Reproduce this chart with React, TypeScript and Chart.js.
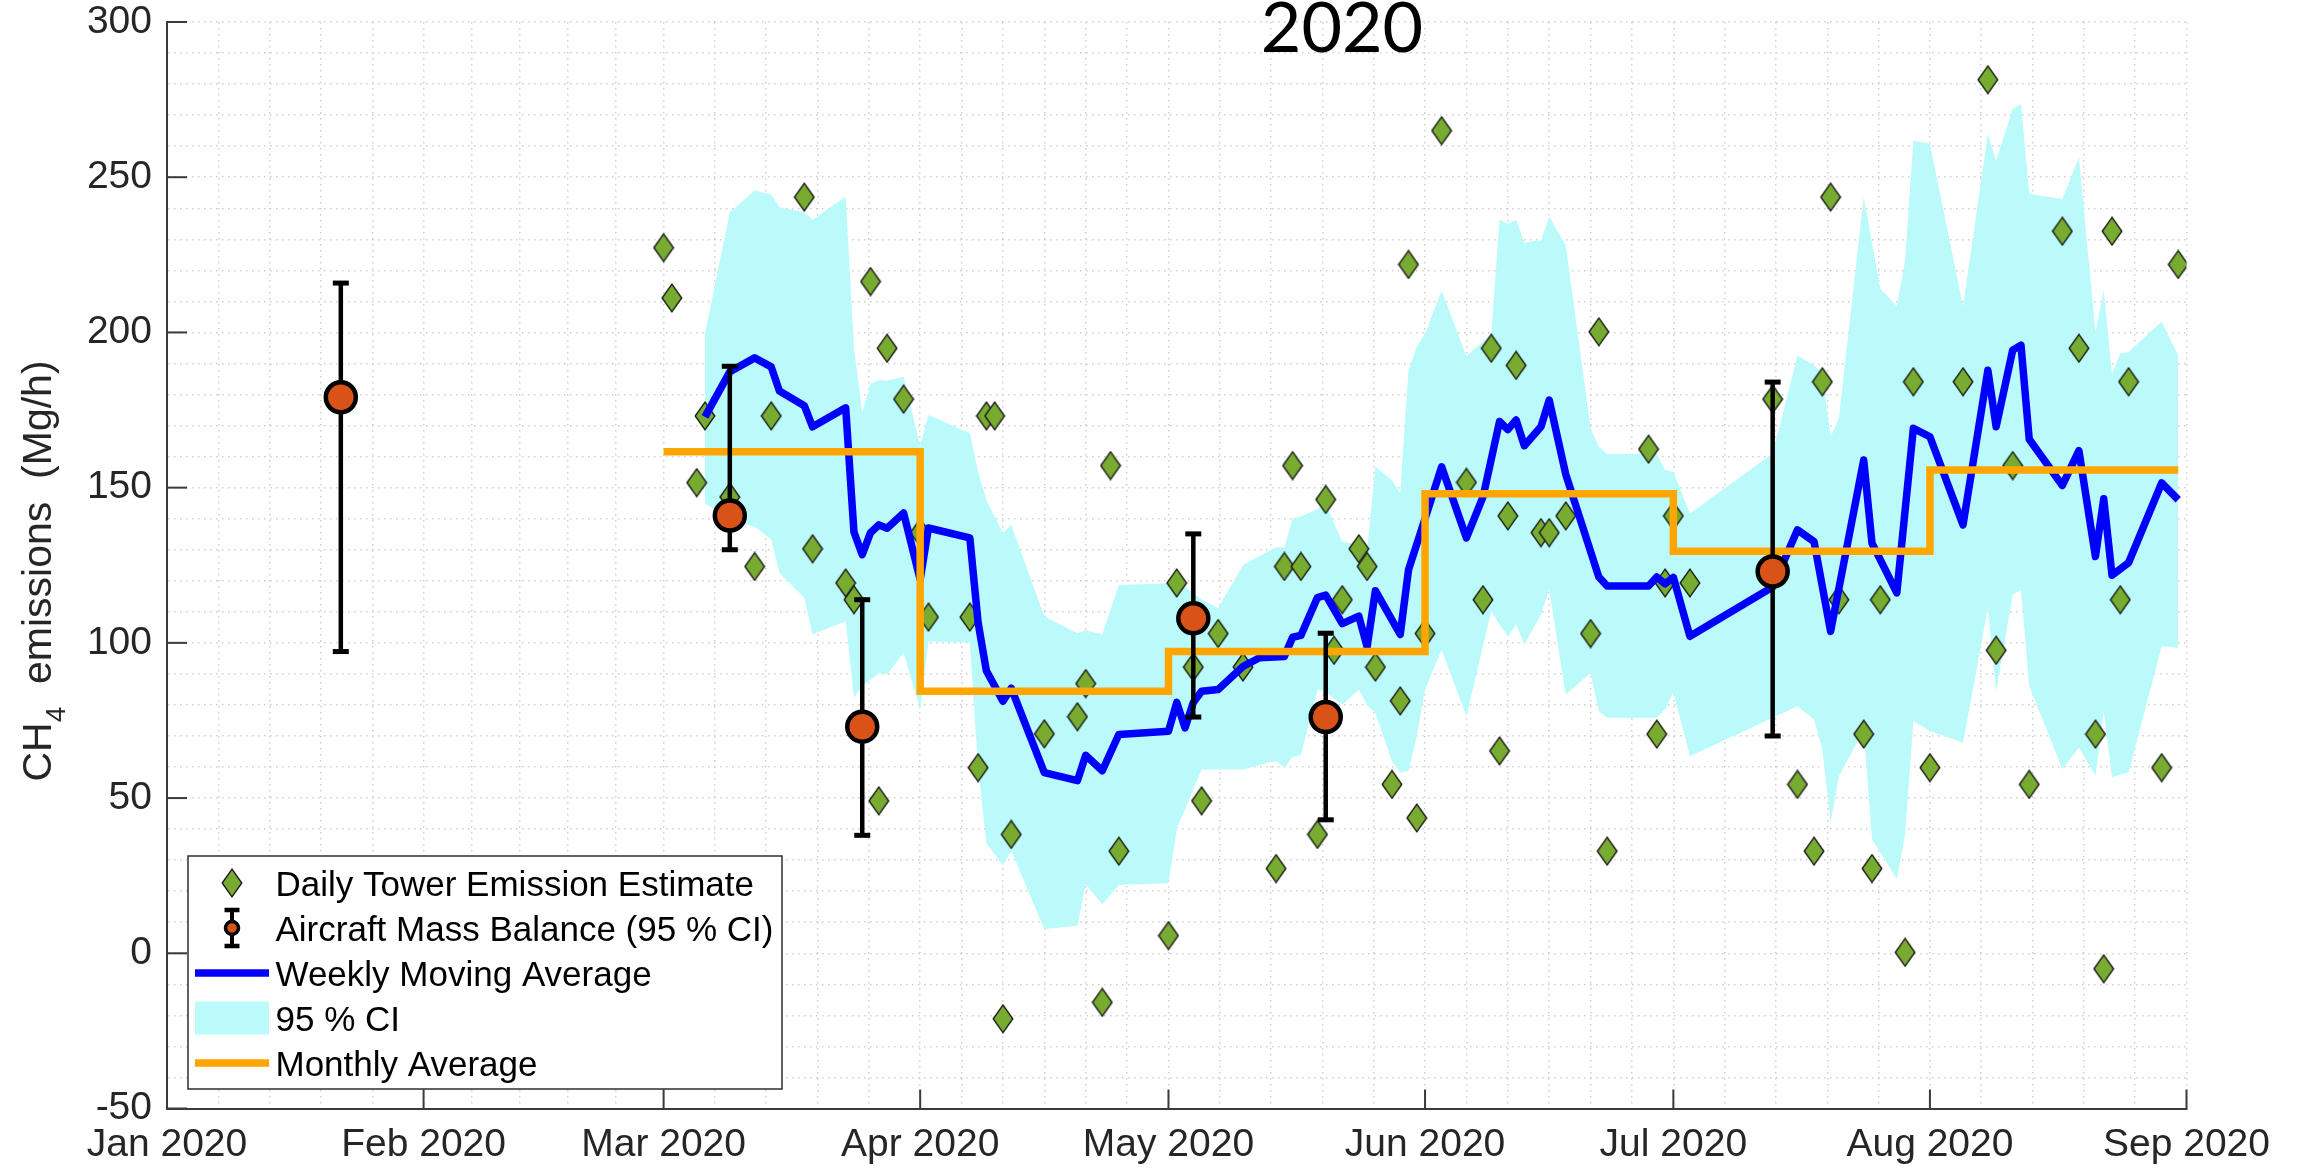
import React, { useEffect, useRef } from 'react';
import { Chart, registerables } from 'chart.js';

Chart.register(...registerables);

// ---------- axis / tick data ----------
const monthLabels = ['Jan 2020', 'Feb 2020', 'Mar 2020', 'Apr 2020', 'May 2020', 'Jun 2020', 'Jul 2020', 'Aug 2020', 'Sep 2020'];
const monthStartDays = [0, 31, 60, 91, 121, 152, 182, 213, 244];
const minorDivisions = [5, 5, 5, 6, 5, 6, 5, 5];
const yMajorTicks = [-50, 0, 50, 100, 150, 200, 250, 300];

// ---------- Daily tower emission estimates ----------
const towerDates = ['03-01', '03-02', '03-05', '03-06', '03-09', '03-12', '03-14', '03-18', '03-19', '03-23', '03-24', '03-26', '03-27', '03-28', '03-30', '04-01', '04-02', '04-07', '04-08', '04-09', '04-10', '04-11', '04-12', '04-16', '04-20', '04-21', '04-23', '04-24', '04-25', '05-01', '05-02', '05-04', '05-05', '05-07', '05-10', '05-14', '05-15', '05-16', '05-17', '05-19', '05-20', '05-21', '05-22', '05-24', '05-25', '05-26', '05-28', '05-29', '05-30', '05-31', '06-01', '06-03', '06-06', '06-08', '06-09', '06-10', '06-11', '06-12', '06-15', '06-16', '06-18', '06-21', '06-22', '06-23', '06-28', '06-29', '06-30', '07-01', '07-03', '07-13', '07-16', '07-18', '07-19', '07-20', '07-21', '07-24', '07-25', '07-26', '07-29', '07-30', '08-01', '08-05', '08-08', '08-09', '08-11', '08-13', '08-17', '08-19', '08-21', '08-22', '08-23', '08-24', '08-25', '08-29', '08-31'];
const towerValues = [227.3, 211.1, 151.6, 173.1, 147.0, 124.6, 173.1, 243.6, 130.3, 119.3, 113.9, 216.4, 49.1, 194.9, 178.5, 135.5, 108.3, 108.3, 59.8, 173.1, 173.1, -21.1, 38.3, 70.7, 76.2, 86.9, -15.8, 157.1, 32.9, 5.7, 119.3, 92.2, 49.1, 103.0, 92.2, 27.3, 124.6, 157.1, 124.6, 38.3, 146.2, 97.6, 113.9, 130.3, 124.6, 92.2, 54.4, 81.3, 221.9, 43.6, 103.0, 265.0, 151.7, 113.9, 194.9, 65.2, 140.9, 189.4, 135.5, 135.5, 140.9, 103.0, 200.2, 32.9, 162.4, 70.6, 119.3, 140.9, 119.3, 178.5, 54.4, 32.9, 184.1, 243.6, 113.9, 70.6, 27.3, 113.9, 0.3, 184.1, 59.8, 184.1, 281.4, 97.6, 157.1, 54.4, 232.6, 194.9, 70.6, -5.0, 232.6, 113.9, 184.1, 59.8, 221.9];

// ---------- Aircraft mass balance (95% CI) ----------
const aircraftDates = ['01-22', '03-09', '03-25', '05-04', '05-20', '07-13'];
const aircraftValues = [179.1, 141.0, 73.0, 107.9, 76.1, 123.0];
const aircraftLow = [97.2, 130.0, 38.0, 76.1, 43.0, 70.0];
const aircraftHigh = [215.9, 189.1, 113.9, 135.1, 103.1, 184.0];

// ---------- Weekly moving average ----------
const weeklyDates = ['03-06', '03-09', '03-12', '03-14', '03-15', '03-18', '03-19', '03-23', '03-24', '03-25', '03-26', '03-27', '03-28', '03-30', '04-01', '04-02', '04-07', '04-08', '04-09', '04-10', '04-11', '04-12', '04-16', '04-20', '04-21', '04-23', '04-25', '05-01', '05-02', '05-03', '05-04', '05-05', '05-07', '05-10', '05-12', '05-15', '05-16', '05-17', '05-19', '05-20', '05-22', '05-24', '05-25', '05-26', '05-29', '05-30', '06-01', '06-03', '06-06', '06-08', '06-10', '06-11', '06-12', '06-13', '06-15', '06-16', '06-18', '06-22', '06-23', '06-28', '06-29', '06-30', '07-01', '07-03', '07-13', '07-16', '07-18', '07-20', '07-24', '07-25', '07-26', '07-28', '07-30', '08-01', '08-05', '08-08', '08-09', '08-11', '08-12', '08-13', '08-17', '08-19', '08-21', '08-22', '08-23', '08-25', '08-29', '08-31'];
const weeklyValues = [172.8, 187.3, 191.8, 188.9, 181.1, 176.4, 169.6, 175.7, 135.7, 128.4, 135.5, 138.0, 136.9, 141.8, 120.4, 137.0, 133.8, 106.5, 91.0, 86.1, 81.2, 85.4, 58.2, 55.6, 63.8, 58.8, 70.5, 71.5, 80.8, 72.6, 80.8, 84.4, 85.0, 92.4, 95.2, 95.6, 101.8, 102.4, 114.6, 115.4, 106.2, 108.6, 98.7, 116.8, 102.7, 123.5, 140.0, 156.7, 133.8, 147.0, 171.3, 168.7, 171.8, 163.5, 169.6, 178.2, 154.3, 121.2, 118.3, 118.3, 121.2, 119.0, 121.1, 102.1, 118.0, 136.4, 132.6, 103.7, 158.9, 132.1, 126.8, 116.1, 169.1, 166.4, 138.0, 187.8, 169.6, 194.3, 195.9, 165.6, 150.7, 161.9, 127.8, 146.4, 121.8, 125.8, 151.5, 146.1];

// ---------- 95% CI band ----------
const ciDates = ['03-06', '03-09', '03-12', '03-14', '03-15', '03-18', '03-19', '03-23', '03-24', '03-25', '03-26', '03-27', '03-28', '03-30', '04-01', '04-02', '04-07', '04-08', '04-09', '04-11', '04-12', '04-16', '04-20', '04-21', '04-23', '04-25', '05-01', '05-02', '05-05', '05-07', '05-10', '05-14', '05-15', '05-16', '05-17', '05-19', '05-20', '05-21', '05-22', '05-23', '05-24', '05-25', '05-26', '05-28', '05-29', '05-30', '05-31', '06-01', '06-03', '06-06', '06-09', '06-10', '06-11', '06-12', '06-13', '06-15', '06-16', '06-18', '06-21', '06-22', '06-23', '06-29', '06-30', '07-01', '07-03', '07-13', '07-16', '07-18', '07-19', '07-20', '07-21', '07-24', '07-25', '07-26', '07-28', '07-29', '07-30', '08-01', '08-05', '08-08', '08-09', '08-11', '08-12', '08-13', '08-17', '08-19', '08-21', '08-22', '08-23', '08-24', '08-25', '08-29', '08-31'];
const ciUpper = [199.6, 238.7, 245.7, 244.4, 240.3, 238.7, 236.3, 243.8, 195.0, 174.2, 183.5, 184.6, 184.4, 185.7, 163.5, 173.4, 167.5, 155.0, 146.0, 135.4, 138.0, 108.5, 103.1, 104.1, 102.7, 118.6, 119.2, 120.0, 114.0, 111.2, 125.1, 130.8, 130.8, 140.1, 140.7, 143.0, 145.0, 138.5, 132.6, 132.1, 131.5, 130.0, 156.7, 152.5, 148.2, 187.8, 195.3, 199.6, 213.5, 192.3, 199.6, 236.3, 235.0, 236.3, 229.0, 229.6, 237.3, 228.0, 169.1, 163.2, 160.8, 160.8, 155.7, 155.1, 141.7, 161.0, 192.6, 189.4, 186.8, 166.4, 172.3, 243.6, 229.0, 214.1, 208.4, 223.2, 261.8, 260.7, 208.4, 263.9, 255.3, 272.0, 273.6, 244.6, 243.0, 256.4, 200.2, 213.5, 186.8, 193.2, 193.7, 203.4, 192.6];
const ciLower = [145.0, 140.0, 137.4, 133.3, 122.5, 114.5, 102.7, 107.0, 82.3, 86.0, 88.0, 90.3, 89.8, 96.8, 78.5, 100.5, 100.0, 60.0, 35.5, 28.3, 33.0, 7.8, 8.9, 22.3, 15.8, 22.0, 22.6, 40.0, 59.2, 59.2, 59.2, 62.0, 59.8, 63.2, 63.8, 85.0, 84.4, 82.0, 80.2, 82.5, 85.0, 80.0, 77.5, 61.9, 58.2, 58.7, 70.0, 85.0, 97.8, 76.4, 110.2, 106.0, 102.1, 105.9, 99.5, 109.1, 117.1, 83.4, 90.3, 78.0, 75.9, 75.9, 78.6, 84.0, 63.5, 75.9, 79.6, 75.3, 65.7, 42.1, 57.0, 72.0, 36.8, 32.5, 23.9, 38.3, 74.8, 71.6, 67.8, 111.2, 84.4, 115.5, 117.1, 86.1, 59.3, 66.3, 57.1, 78.0, 56.6, 57.5, 58.2, 98.9, 98.4];

// ---------- Monthly average ----------
const monthlyDates = ['03-01', '04-01', '05-01', '06-01', '07-01', '08-01', '08-31'];
const monthlyValues = [161.6, 84.4, 97.2, 148.0, 129.5, 155.7, 155.7];

// ---------- helpers ----------
const FONT = "'Liberation Sans', Arial, Helvetica, sans-serif";
const AXIS_COLOR = '#3a3a3a';
const TEXT_COLOR = '#262626';
const GRID_COLOR = '#cfcfcf';
const CI_COLOR = '#BBFAFA';
const GREEN = '#77AC30';
const RED = '#D95319';
const BLUE = '#0000FF';
const ORANGE = '#FFA500';

const dayOf = (md: string): number => {
  const [m, d] = md.split('-').map(Number);
  return (Date.UTC(2020, m - 1, d) - Date.UTC(2020, 0, 1)) / 86400000;
};
const pts = (dates: string[], vals: number[]) => dates.map((d, i) => ({ x: dayOf(d), y: vals[i] }));

const xGridDays: number[] = [];
monthStartDays.slice(0, -1).forEach((start, i) => {
  const len = monthStartDays[i + 1] - start;
  for (let k = 0; k < minorDivisions[i]; k++) xGridDays.push(start + (len * k) / minorDivisions[i]);
});
xGridDays.push(244);
const yGridValues: number[] = [];
for (let v = -50; v <= 300; v += 10) yGridValues.push(v);

function makeDiamond(): HTMLCanvasElement {
  const c = document.createElement('canvas');
  c.width = 22;
  c.height = 30;
  const g = c.getContext('2d')!;
  g.beginPath();
  g.moveTo(11, 1.2);
  g.lineTo(20.8, 15);
  g.lineTo(11, 28.8);
  g.lineTo(1.2, 15);
  g.closePath();
  g.fillStyle = GREEN;
  g.fill();
  g.lineWidth = 1.4;
  g.strokeStyle = '#1a1a1a';
  g.stroke();
  return c;
}

function seg(ctx: CanvasRenderingContext2D, x1: number, y1: number, x2: number, y2: number) {
  ctx.beginPath();
  ctx.moveTo(x1, y1);
  ctx.lineTo(x2, y2);
  ctx.stroke();
}

export default function App() {
  const ref = useRef<HTMLCanvasElement | null>(null);

  useEffect(() => {
    if (!ref.current) return;
    const diamond = makeDiamond();

    const tickMarks = {
      id: 'tickMarks',
      beforeDatasetsDraw(chart: any) {
        const { ctx, chartArea: a, scales } = chart;
        ctx.save();
        ctx.strokeStyle = AXIS_COLOR;
        ctx.lineWidth = 2;
        monthStartDays.forEach((d) => {
          const px = scales.x.getPixelForValue(d);
          seg(ctx, px, a.bottom, px, a.bottom - 19);
        });
        yMajorTicks.forEach((v) => {
          const py = scales.y.getPixelForValue(v);
          seg(ctx, a.left, py, a.left + 20, py);
        });
        ctx.restore();
      },
    };

    const errorBars = {
      id: 'errorBars',
      beforeDatasetDraw(chart: any, args: any) {
        if (args.index !== 0) return;
        const { ctx, scales } = chart;
        ctx.save();
        ctx.strokeStyle = '#000';
        ctx.lineCap = 'butt';
        aircraftDates.forEach((d, i) => {
          const px = scales.x.getPixelForValue(dayOf(d));
          const yl = scales.y.getPixelForValue(aircraftLow[i]);
          const yh = scales.y.getPixelForValue(aircraftHigh[i]);
          ctx.lineWidth = 4.5;
          seg(ctx, px, yl, px, yh);
          ctx.lineWidth = 5;
          seg(ctx, px - 8, yl, px + 8, yl);
          seg(ctx, px - 8, yh, px + 8, yh);
        });
        ctx.restore();
      },
    };

    const overlay = {
      id: 'overlay',
      afterDraw(chart: any) {
        const ctx: CanvasRenderingContext2D = chart.ctx;
        ctx.save();
        // ---- legend ----
        const L = { x: 188, y: 856, w: 594, h: 233 };
        ctx.fillStyle = '#ffffff';
        ctx.fillRect(L.x, L.y, L.w, L.h);
        ctx.strokeStyle = '#2e2e2e';
        ctx.lineWidth = 1.5;
        ctx.strokeRect(L.x, L.y, L.w, L.h);
        const rows = [883, 928, 973, 1018, 1063];
        const cx = 232;
        const sx0 = 195;
        const sx1 = 269;
        // diamond
        ctx.drawImage(diamond, cx - diamond.width / 2, rows[0] - diamond.height / 2);
        // error bar icon
        ctx.strokeStyle = '#000';
        ctx.lineWidth = 4;
        seg(ctx, cx, rows[1] - 18, cx, rows[1] + 18);
        ctx.lineWidth = 4.5;
        seg(ctx, cx - 7.5, rows[1] - 18, cx + 7.5, rows[1] - 18);
        seg(ctx, cx - 7.5, rows[1] + 18, cx + 7.5, rows[1] + 18);
        ctx.beginPath();
        ctx.arc(cx, rows[1], 6.5, 0, Math.PI * 2);
        ctx.fillStyle = RED;
        ctx.fill();
        ctx.lineWidth = 3.5;
        ctx.stroke();
        // weekly line
        ctx.strokeStyle = BLUE;
        ctx.lineWidth = 7.5;
        seg(ctx, sx0, rows[2], sx1, rows[2]);
        // CI patch
        ctx.fillStyle = CI_COLOR;
        ctx.fillRect(sx0, rows[3] - 16.5, sx1 - sx0, 33);
        // monthly line
        ctx.strokeStyle = ORANGE;
        ctx.lineWidth = 7.5;
        seg(ctx, sx0, rows[4], sx1, rows[4]);
        // texts
        const labels = ['Daily Tower Emission Estimate', 'Aircraft Mass Balance (95 % CI)', 'Weekly Moving Average', '95 % CI', 'Monthly Average'];
        ctx.fillStyle = '#000';
        ctx.font = `35px ${FONT}`;
        ctx.textAlign = 'left';
        ctx.textBaseline = 'alphabetic';
        labels.forEach((t, i) => ctx.fillText(t, 275.5, rows[i] + 12.5));

        // ---- y axis title with subscript ----
        ctx.fillStyle = TEXT_COLOR;
        const mainFont = `41px ${FONT}`;
        const subFont = `28px ${FONT}`;
        ctx.font = mainFont;
        const wCH = ctx.measureText('CH').width;
        const wRest = ctx.measureText('  emissions  (Mg/h)').width;
        ctx.font = subFont;
        const wSub = ctx.measureText('4').width;
        const total = wCH + wSub + wRest;
        ctx.translate(51, 571);
        ctx.rotate(-Math.PI / 2);
        let tx = -total / 2;
        ctx.font = mainFont;
        ctx.fillText('CH', tx, 0);
        tx += wCH;
        ctx.font = subFont;
        ctx.fillText('4', tx, 14);
        tx += wSub;
        ctx.font = mainFont;
        ctx.fillText('  emissions  (Mg/h)', tx, 0);
        ctx.setTransform(1, 0, 0, 1, 0, 0);

        // ---- title ----
        ctx.fillStyle = '#000';
        ctx.font = `70px Lato, 'Open Sans', sans-serif`;
        ctx.textAlign = 'center';
        ctx.fillText('2020', 1342, 52);
        ctx.restore();
      },
    };

    const tickFont = { family: FONT, size: 39, lineHeight: 1.0 };

    const chart = new Chart(ref.current, {
      type: 'line',
      data: {
        datasets: [
          {
            label: 'Aircraft Mass Balance (95 % CI)',
            data: pts(aircraftDates, aircraftValues),
            showLine: false,
            pointRadius: 15,
            pointBorderWidth: 4.5,
            pointBackgroundColor: RED,
            pointBorderColor: '#000',
          },
          {
            label: 'Monthly Average',
            data: pts(monthlyDates, monthlyValues),
            stepped: true,
            borderColor: ORANGE,
            borderWidth: 7.5,
            pointRadius: 0,
            fill: false,
            borderCapStyle: 'butt',
            borderJoinStyle: 'miter',
          },
          {
            label: 'Weekly Moving Average',
            data: pts(weeklyDates, weeklyValues),
            borderColor: BLUE,
            borderWidth: 7.5,
            pointRadius: 0,
            tension: 0,
            fill: false,
            borderJoinStyle: 'round',
          },
          {
            label: 'Daily Tower Emission Estimate',
            data: pts(towerDates, towerValues),
            showLine: false,
            pointStyle: diamond,
            pointRadius: 12,
          },
          {
            label: '95 % CI',
            data: pts(ciDates, ciUpper),
            fill: '+1',
            backgroundColor: CI_COLOR,
            borderColor: 'rgba(0,0,0,0)',
            borderWidth: 0,
            pointRadius: 0,
            tension: 0,
          },
          {
            label: '95 % CI lower',
            data: pts(ciDates, ciLower),
            fill: false,
            borderColor: 'rgba(0,0,0,0)',
            borderWidth: 0,
            pointRadius: 0,
            tension: 0,
          },
        ],
      } as any,
      options: {
        responsive: false,
        animation: false,
        events: [],
        layout: { padding: { top: 22, right: 115.5, bottom: 0, left: 0 } },
        plugins: {
          legend: { display: false },
          tooltip: { enabled: false },
          title: { display: false },
        },
        scales: {
          x: {
            type: 'linear',
            min: 0,
            max: 244,
            afterBuildTicks: (s: any) => {
              s.ticks = xGridDays.map((v) => ({ value: v }));
            },
            afterFit: (s: any) => {
              s.height = 60.5;
              s.paddingLeft = 0;
              s.paddingRight = 0;
            },
            ticks: {
              autoSkip: false,
              maxRotation: 0,
              minRotation: 0,
              padding: 17,
              color: TEXT_COLOR,
              font: tickFont,
              callback: (v: any) => {
                const i = monthStartDays.indexOf(Number(v));
                return i >= 0 ? monthLabels[i] : '';
              },
            },
            grid: { color: GRID_COLOR, lineWidth: 1.5, drawTicks: false },
            border: { display: true, color: AXIS_COLOR, width: 2, dash: [1.5, 4.5] },
          },
          y: {
            type: 'linear',
            min: -50,
            max: 300,
            afterBuildTicks: (s: any) => {
              s.ticks = yGridValues.map((v) => ({ value: v }));
            },
            afterFit: (s: any) => {
              s.width = 167;
              s.paddingTop = 0;
              s.paddingBottom = 0;
            },
            ticks: {
              autoSkip: false,
              padding: 15,
              color: TEXT_COLOR,
              font: tickFont,
              callback: (v: any) => (Number(v) % 50 === 0 ? String(v) : ''),
            },
            grid: { color: GRID_COLOR, lineWidth: 1.5, drawTicks: false },
            border: { display: true, color: AXIS_COLOR, width: 2, dash: [1.5, 4.5] },
          },
        },
      } as any,
      plugins: [tickMarks, errorBars, overlay],
    });

    return () => chart.destroy();
  }, []);

  return (
    <div style={{ position: 'fixed', left: 0, top: 0, width: 2302, height: 1169, background: '#fff' }}>
      <canvas ref={ref} width={2302} height={1169} style={{ display: 'block' }} />
    </div>
  );
}
